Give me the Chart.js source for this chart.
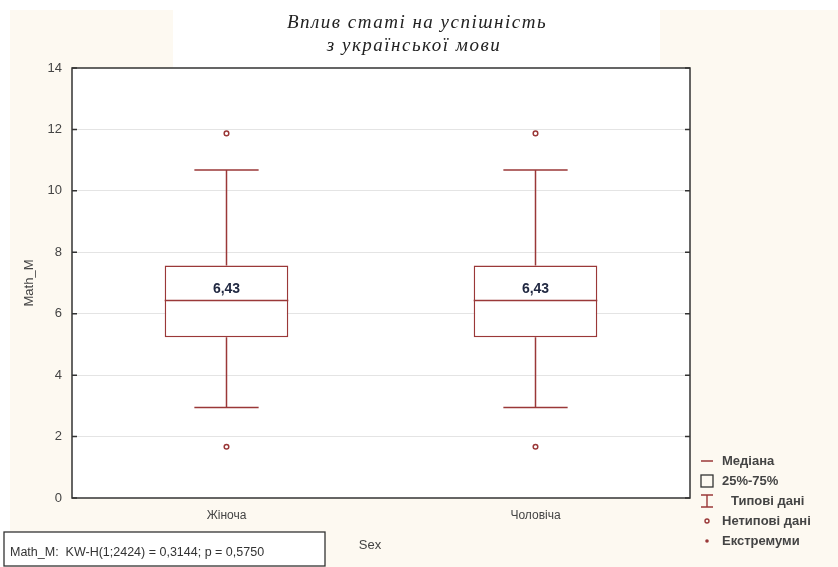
<!DOCTYPE html>
<html>
<head>
<meta charset="utf-8">
<script src="https://cdn.jsdelivr.net/npm/chart.js@4/dist/chart.umd.min.js"></script>
<style>
  body { margin: 0; background: #fdf9f1; }
  #wrap { position: relative; width: 838px; height: 567px; }
</style>
</head>
<body>
<div id="wrap"><canvas id="boxChart" width="838" height="567"></canvas></div>
<script>
//------------------------------------//
//------------- Data -----------------//
//------------------------------------//

const categories = ['Жіноча', 'Чоловіча'];
const q1Values = [5.23, 5.23];
const q3Values = [7.57, 7.57];
const medianValues = [6.43, 6.43];
const whiskerLow = [2.95, 2.95];
const whiskerHigh = [10.68, 10.68];
const outlierLow = [1.67, 1.67];
const outlierHigh = [11.87, 11.87];
const medianLabels = ['6,43', '6,43'];
const yTicks = [0, 2, 4, 6, 8, 10, 12, 14];

const titleLines = ['Вплив статі на успішність', 'з української мови'];
const legendItems = ['Медіана', '25%-75%', 'Типові дані', 'Нетипові дані', 'Екстремуми'];
const statText = 'Math_M:  KW-H(1;2424) = 0,3144; p = 0,5750';
const xTitle = 'Sex';

const boxColor = '#9a3838';

//------------------------------------//
//------------- Plugins --------------//
//------------------------------------//

// cream page, white title patch
const backdrop = {
  id: 'backdrop',
  beforeDraw(chart) {
    const c = chart.ctx;
    const a = chart.chartArea;
    c.save();
    c.fillStyle = '#fdf9f1';
    c.fillRect(0, 0, chart.width, chart.height);
    c.fillStyle = '#ffffff';
    c.fillRect(0, 0, chart.width, 10);
    c.fillRect(0, 0, 10, chart.height);
    c.fillRect(173, 0, 487, a.top);
    c.fillRect(a.left, a.top, a.right - a.left, a.bottom - a.top);

    c.fillStyle = '#222';
    c.font = 'italic 19px "Liberation Serif"';
    c.letterSpacing = '1.5px';
    c.textAlign = 'center';
    c.textBaseline = 'middle';
    c.fillText(titleLines[0], 417, 23);
    c.fillText(titleLines[1], 414, 46);
    c.restore();
  }
};

// whiskers, medians, frame, legend
const boxParts = {
  id: 'boxParts',
  afterDatasetsDraw(chart) {
    const c = chart.ctx;
    const x = chart.scales.x;
    const y = chart.scales.y;
    const a = chart.chartArea;
    const boxW = x.width / categories.length * 0.4;
    const capW = boxW * 0.52;

    c.save();
    c.strokeStyle = boxColor;
    c.lineWidth = 1.5;
    categories.forEach((cat, i) => {
      const cx = x.getPixelForValue(i);
      const yq1 = y.getPixelForValue(q1Values[i]);
      const yq3 = y.getPixelForValue(q3Values[i]);
      const ylo = y.getPixelForValue(whiskerLow[i]);
      const yhi = y.getPixelForValue(whiskerHigh[i]);
      const ymed = y.getPixelForValue(medianValues[i]);
      c.beginPath();
      c.moveTo(cx, yq3); c.lineTo(cx, yhi);
      c.moveTo(cx - capW / 2, yhi); c.lineTo(cx + capW / 2, yhi);
      c.moveTo(cx, yq1); c.lineTo(cx, ylo);
      c.moveTo(cx - capW / 2, ylo); c.lineTo(cx + capW / 2, ylo);
      c.moveTo(cx - boxW / 2, ymed); c.lineTo(cx + boxW / 2, ymed);
      c.stroke();

      c.fillStyle = '#1f2740';
      c.font = 'bold 14px "Liberation Sans"';
      c.textAlign = 'center';
      c.textBaseline = 'middle';
      c.fillText(medianLabels[i], cx, ymed - 11);
    });

    // frame + inward ticks
    c.strokeStyle = '#333';
    c.lineWidth = 1.5;
    c.strokeRect(a.left, a.top, a.right - a.left, a.bottom - a.top);
    c.beginPath();
    yTicks.forEach(t => {
      const py = y.getPixelForValue(t);
      c.moveTo(a.left, py); c.lineTo(a.left + 5, py);
      c.moveTo(a.right, py); c.lineTo(a.right - 5, py);
    });
    c.stroke();

    // x title
    c.fillStyle = '#444';
    c.font = '13px "Liberation Sans"';
    c.textAlign = 'center';
    c.textBaseline = 'middle';
    c.fillText(xTitle, 370, 545);

    // legend
    const lx = 707;
    const rows = [461, 481, 501, 521, 541];
    c.font = 'bold 13px "Liberation Sans"';
    c.textAlign = 'left';
    c.fillStyle = '#444';
    legendItems.forEach((txt, i) => {
      c.fillText(txt, i === 2 ? 731 : 722, rows[i]);
    });
    c.strokeStyle = boxColor;
    c.lineWidth = 1.4;
    c.beginPath();
    c.moveTo(lx - 6, rows[0]); c.lineTo(lx + 6, rows[0]);
    c.moveTo(lx, rows[2] - 6); c.lineTo(lx, rows[2] + 6);
    c.moveTo(lx - 6, rows[2] - 6); c.lineTo(lx + 6, rows[2] - 6);
    c.moveTo(lx - 6, rows[2] + 6); c.lineTo(lx + 6, rows[2] + 6);
    c.stroke();
    c.beginPath();
    c.arc(lx, rows[3], 2, 0, Math.PI * 2);
    c.stroke();
    c.fillStyle = boxColor;
    c.beginPath();
    c.arc(lx, rows[4], 1.8, 0, Math.PI * 2);
    c.fill();
    c.strokeStyle = '#333';
    c.lineWidth = 1.3;
    c.strokeRect(lx - 6, rows[1] - 6, 12, 12);

    // stat box
    c.fillStyle = '#ffffff';
    c.fillRect(4, 532, 321, 34);
    c.strokeRect(4, 532, 321, 34);
    c.fillStyle = '#333';
    c.font = '12.5px "Liberation Sans"';
    c.fillText(statText, 10, 553);
    c.restore();
  }
};

//------------------------------------//
//------------- Chart ----------------//
//------------------------------------//

const boxCanvas = document.getElementById('boxChart');

let boxData = {
  labels: categories,
  datasets: [
    {
      type: 'bar',
      data: categories.map((c, i) => [q1Values[i], q3Values[i]]),
      backgroundColor: '#ffffff',
      borderColor: boxColor,
      borderWidth: 1.5,
      borderSkipped: false,
      barPercentage: 0.4,
      categoryPercentage: 1
    },
    {
      type: 'line',
      data: outlierHigh,
      showLine: false,
      pointRadius: 2.3,
      pointBorderWidth: 1.5,
      pointBorderColor: boxColor,
      pointBackgroundColor: '#ffffff'
    },
    {
      type: 'line',
      data: outlierLow,
      showLine: false,
      pointRadius: 2.3,
      pointBorderWidth: 1.5,
      pointBorderColor: boxColor,
      pointBackgroundColor: '#ffffff'
    }
  ]
};

let boxOptions = {
  responsive: false,
  animation: false,
  layout: { padding: { top: 68, right: 148, left: 0, bottom: 0 } },
  scales: {
    x: {
      afterFit(scale) { scale.height = 69; },
      grid: { display: false, drawTicks: false },
      border: { display: false },
      ticks: { color: '#444', font: { family: 'Liberation Sans', size: 12 }, padding: 10 }
    },
    y: {
      min: 0,
      max: 14,
      afterFit(scale) { scale.width = 72; },
      afterBuildTicks(scale) { scale.ticks = yTicks.map(v => ({ value: v })); },
      grid: {
        drawTicks: false,
        color: ctx => (ctx.tick && (ctx.tick.value === 0 || ctx.tick.value === 14)) ? 'rgba(0,0,0,0)' : '#e4e4e4'
      },
      border: { display: false },
      ticks: { color: '#444', font: { family: 'Liberation Sans', size: 13 }, padding: 10 },
      title: { display: true, text: 'Math_M', color: '#444', font: { family: 'Liberation Sans', size: 13 }, padding: { top: 22, bottom: 0 } }
    }
  },
  plugins: {
    legend: { display: false },
    tooltip: { enabled: false }
  }
};

let boxChart = new Chart(boxCanvas, {
  data: boxData,
  options: boxOptions,
  plugins: [backdrop, boxParts]
});
</script>
</body>
</html>
